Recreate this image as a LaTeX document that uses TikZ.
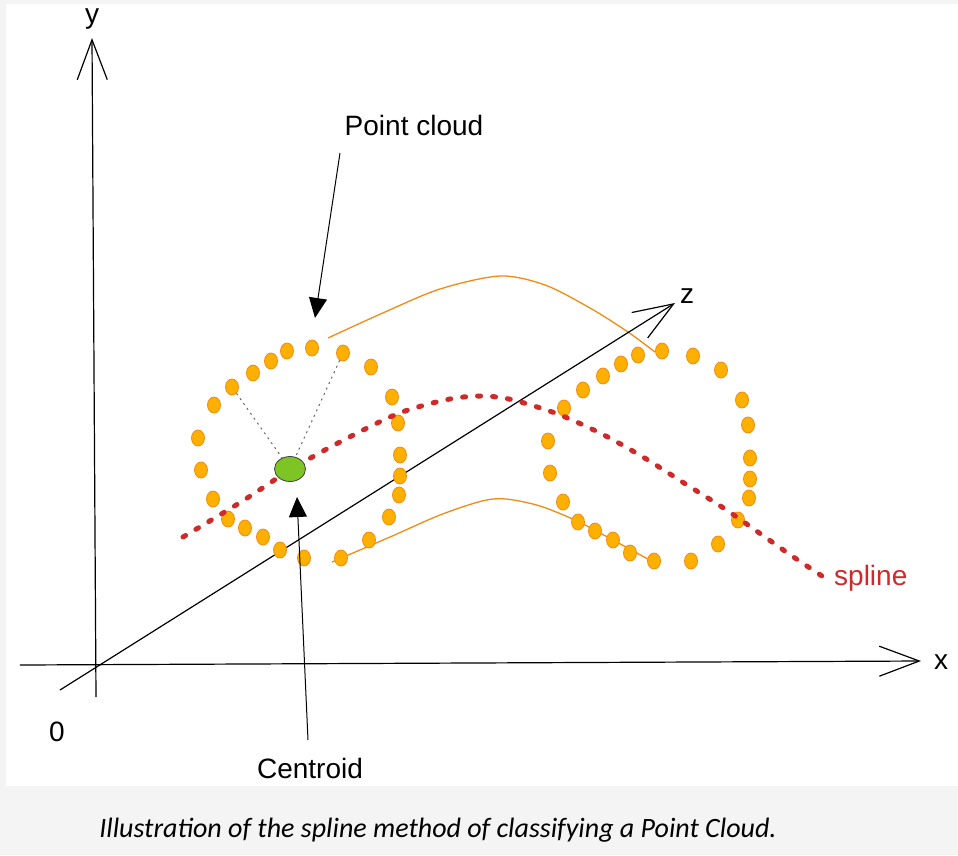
\documentclass[tikz,border=0pt]{standalone}
\usepackage{fontspec}
\setmainfont{Liberation Sans}
\newfontfamily\capfont{Carlito}
\usepackage{tikz}
\usetikzlibrary{positioning, arrows.meta, shapes.geometric}

\definecolor{dotfill}{RGB}{253,176,0}
\definecolor{dotline}{RGB}{240,140,20}
\definecolor{splred}{RGB}{206,42,42}
\definecolor{cgreen}{RGB}{126,196,36}
\definecolor{pagegray}{RGB}{244,244,244}

\tikzset{
    axis/.style={line width=1.2pt, -{Straight Barb[length=40pt, width=30pt]}},
    ptdot/.style={ellipse, draw=dotline, fill=dotfill, line width=0.8pt, minimum width=13pt, minimum height=16pt, inner sep=0pt},
    lbl/.style={font=\fontsize{28}{30}\selectfont, inner sep=1pt},
    pointer/.style={line width=1pt, -{Triangle[length=20pt, width=18pt]}},
    orangeline/.style={draw=dotline, line width=1.3pt},
}

\begin{document}
\begin{tikzpicture}[x=1pt, y=-1pt]
                    \useasboundingbox (0,0) rectangle (958,855);
                    \fill[pagegray] (0,0) rectangle (958,855);
                    \fill[white] (6,4) rectangle (958,786);

                    % axes
                    \coordinate (ybot) at (96,697);
                    \coordinate (ytop) at (92,38);
                    \coordinate (xleft) at (20,665);
                    \coordinate (xright) at (921,661);
                    \coordinate (zbot) at (60,690);
                    \coordinate (ztop) at (675,303);
                    \node[lbl] (ylbl) at (92,19) {y};
                    \node[lbl] (xlbl) at (941,662) {x};
                    \node[lbl] (zlbl) at (687,296) {z};
                    \node[lbl] (orig) at (57,732) {0};

                    % orange lines joining the clouds
                    \draw[orangeline] plot[smooth] coordinates {(328,338) (385,312) (440,289) (500,276) (545,285) (590,308) (628,332) (655,352)};
                    \draw[orangeline] plot[smooth] coordinates {(332,562) (390,537) (440,515) (482,501) (506,499) (540,506) (577,521) (613,540) (655,563)};

                    \draw[axis] (ybot) -- (ytop);
                    \draw[axis] (xleft) -- (xright);
                    \draw[axis] (zbot) -- (ztop);

                    % point cloud, first slice
                    \foreach \i/\px/\py in {1/312/348, 2/287/351, 3/271/361, 4/253/373, 5/232/387, 6/214/405, 7/198/438, 8/201/470, 9/213/499, 10/228/519, 11/245/528, 12/263/537, 13/280/550, 14/304/558, 15/341/558, 16/369/540, 17/389/517, 18/399/495, 19/400/476, 20/400/455, 21/398/423, 22/392/397, 23/371/367, 24/343/353}
                        \node[ptdot] (a\i) at (\px,\py) {};

                    % point cloud, second slice
                    \foreach \i/\px/\py in {1/662/351, 2/693/356, 3/721/370, 4/742/400, 5/748/425, 6/750/458, 7/750/479, 8/749/498, 9/738/520, 10/718/544, 11/691/561, 12/654/561, 13/630/553, 14/613/540, 15/595/531, 16/578/522, 17/563/502, 18/550/473, 19/548/441, 20/564/408, 21/583/390, 22/603/376, 23/621/364, 24/638/355}
                        \node[ptdot] (b\i) at (\px,\py) {};

                    % spline
                    \draw[splred, line width=5pt, line cap=round, dash pattern=on 3pt off 12pt] plot[smooth] coordinates {(183,537) (241,502) (290,470) (338,443) (397,414) (445,400) (478,396) (509,399) (555,413) (600,433) (643,457) (684,483) (725,509) (765,537) (792,556) (822,576)};
                    \node[lbl, text=splred, anchor=west] (spl) at (833,578) {spline};

                    % centroid
                    \node[ellipse, draw=black!75, fill=cgreen, line width=0.8pt, minimum width=31pt, minimum height=25pt, inner sep=0pt] (cen) at (290,469) {};
                    \draw[gray!80!black, line width=1pt, dash pattern=on 2pt off 4pt] (a5) -- (cen);
                    \draw[gray!80!black, line width=1pt, dash pattern=on 2pt off 4pt] (a24) -- (cen);

                    % labels with pointers
                    \node[lbl] (pc) at (414,125) {Point cloud};
                    \node[lbl] (cl) at (310,768) {Centroid};
                    \coordinate (pctail) at (340,153);
                    \coordinate (pctip) at (315,318);
                    \coordinate (cltail) at (308,740);
                    \coordinate (cltip) at (297,497);
                    \draw[pointer] (pctail) -- (pctip);
                    \draw[pointer] (cltail) -- (cltip);

                    \node[font=\capfont\itshape\fontsize{28}{32}\selectfont, text=black] (cap) at (438,830) {Illustration of the spline method of classifying a Point Cloud.};
                \end{tikzpicture}
\end{document}
